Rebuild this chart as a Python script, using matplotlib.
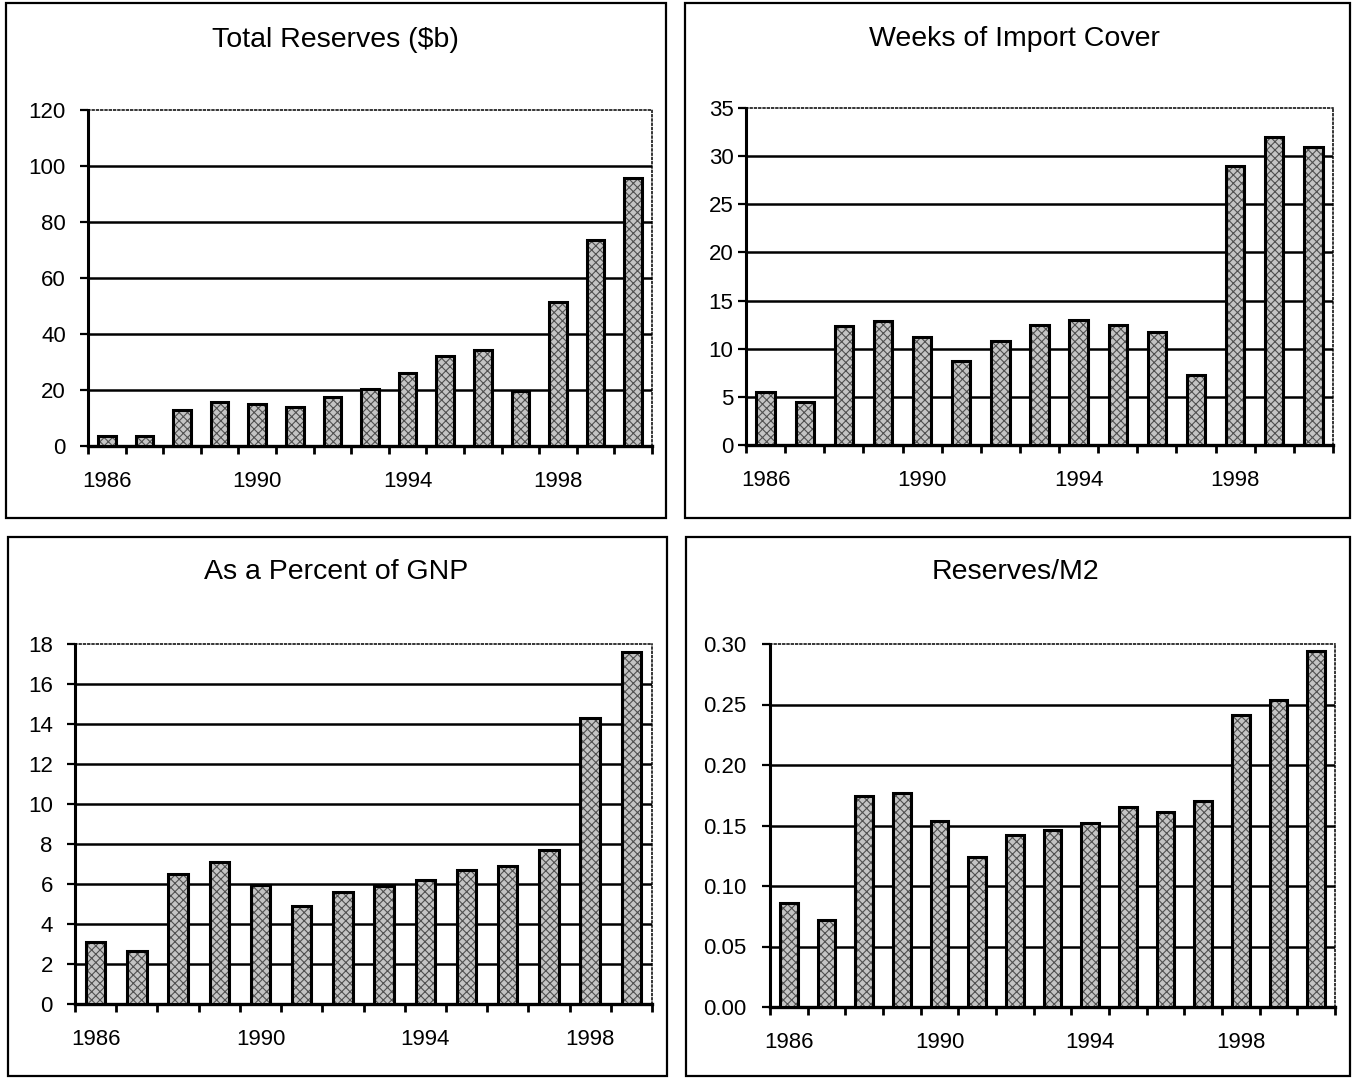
import numpy as np
import matplotlib
matplotlib.use("Agg")
import matplotlib.pyplot as plt
from matplotlib.patches import Rectangle
from matplotlib.ticker import FixedLocator, FormatStrFormatter

plt.rcParams["font.family"] = ["Liberation Sans", "DejaVu Sans"]
plt.rcParams["hatch.linewidth"] = 0.8

# data
years_15 = ["1986", "1987", "1988", "1989", "1990", "1991", "1992", "1993",
            "1994", "1995", "1996", "1997", "1998", "1999", "2000"]
years_14 = years_15[:14]

total_reserves = [3.5, 3.5, 12.8, 15.8, 15.1, 14.0, 17.4, 20.2, 26.1, 32.3,
                  34.2, 19.8, 51.6, 73.6, 95.8]
import_cover = [5.5, 4.5, 12.4, 12.9, 11.2, 8.7, 10.8, 12.5, 13.0, 12.5,
                11.7, 7.3, 29.0, 32.0, 31.0]
pct_gnp = [3.1, 2.67, 6.5, 7.1, 5.97, 4.9, 5.6, 5.9, 6.2, 6.7, 6.9, 7.7,
           14.3, 17.6]
reserves_m2 = [0.086, 0.072, 0.174, 0.177, 0.154, 0.124, 0.142, 0.146, 0.152,
               0.165, 0.161, 0.170, 0.241, 0.254, 0.294]

W, H = 1358, 1078
fig = plt.figure(figsize=(W / 100, H / 100), dpi=100)


def px_axes(left, top, right, bottom):
    return fig.add_axes([left / W, 1 - bottom / H, (right - left) / W, (bottom - top) / H])


def box(left, top, right, bottom):
    fig.add_artist(Rectangle((left / W, 1 - bottom / H), (right - left) / W,
                             (bottom - top) / H, transform=fig.transFigure,
                             fill=False, edgecolor="black", linewidth=1.6))


def bar_panel(ax, cats, vals, ymax, ystep, fmt, ypad):
    n = len(cats)
    x = np.arange(n)
    w = 0.47
    ax.bar(x, vals, width=w, color="#c4c4c4", edgecolor="#505050",
           hatch="xxxx", linewidth=0, zorder=3)
    ax.bar(x, vals, width=w, fill=False, edgecolor="black", linewidth=2.2, zorder=4)
    ax.set_xlim(-0.5, n - 0.5)
    ax.set_ylim(0, ymax)
    yt = np.arange(0, ymax + ystep / 2, ystep)
    ax.set_yticks(yt)
    ax.yaxis.set_major_formatter(FormatStrFormatter(fmt))
    for v in yt[1:-1]:
        ax.axhline(v, color="black", linewidth=1.8, zorder=1)
    ax.set_xticks(x[::4])
    ax.set_xticklabels([cats[i] for i in range(0, n, 4)])
    ax.xaxis.set_minor_locator(FixedLocator(np.arange(-0.5, n, 1.0)))
    ax.tick_params(axis="x", which="major", length=0, pad=18, labelsize=16)
    ax.tick_params(axis="x", which="minor", length=6, width=2, direction="out")
    ax.tick_params(axis="y", length=6, width=1.6, direction="out", pad=ypad,
                   labelsize=16)
    ax.spines["left"].set_linewidth(2.2)
    ax.spines["bottom"].set_linewidth(2.4)
    # dotted frame on top and right
    for s in ("top", "right"):
        ax.spines[s].set_linestyle((0, (1.2, 1.6)))
        ax.spines[s].set_linewidth(1.1)


# top left
box(6, 3, 666, 518)
ax1 = px_axes(88, 110, 652, 446)
bar_panel(ax1, years_15, total_reserves, 120, 20, "%d", 10)
fig.text(335 / W, 1 - 40 / H, "Total Reserves ($b)", ha="center", va="center", fontsize=20.5)

# top right
box(685, 3, 1350, 518)
ax2 = px_axes(746, 108, 1333, 445)
bar_panel(ax2, years_15, import_cover, 35, 5, "%d", 3)
fig.text(1014 / W, 1 - 39 / H, "Weeks of Import Cover", ha="center", va="center", fontsize=20.5)

# bottom left
box(8, 537, 667, 1076)
ax3 = px_axes(75, 644, 652, 1004)
bar_panel(ax3, years_14, pct_gnp, 18, 2, "%d", 10)
fig.text(336 / W, 1 - 572 / H, "As a Percent of GNP", ha="center", va="center", fontsize=20.5)

# bottom right
box(686, 537, 1350, 1076)
ax4 = px_axes(770, 644, 1335, 1007)
bar_panel(ax4, years_15, reserves_m2, 0.30, 0.05, "%.2f", 11)
fig.text(1015 / W, 1 - 572 / H, "Reserves/M2", ha="center", va="center", fontsize=20.5)

fig.savefig("out.png", dpi=100)
